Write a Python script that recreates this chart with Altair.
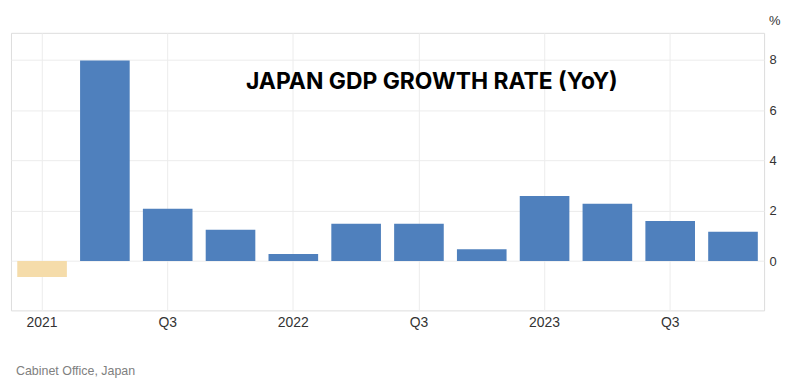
import altair as alt
import pandas as pd

quarters = ["2021 Q1", "2021 Q2", "2021 Q3", "2021 Q4",
            "2022 Q1", "2022 Q2", "2022 Q3", "2022 Q4",
            "2023 Q1", "2023 Q2", "2023 Q3", "2023 Q4"]
growth = [-0.63, 7.98, 2.08, 1.25, 0.28, 1.49, 1.49, 0.47, 2.59, 2.28, 1.6, 1.17]
x_tick_values = ["2021 Q1", "2021 Q3", "2022 Q1", "2022 Q3", "2023 Q1", "2023 Q3"]
y_tick_values = [0, 2, 4, 6, 8]
title_text = "JAPAN GDP GROWTH RATE (YoY)"
source_text = "Cabinet Office, Japan"
unit_text = "%"

df = pd.DataFrame({"q": quarters, "v": growth})

W, H = 757, 279
FONT = "Liberation Sans"

bars = alt.Chart(df).mark_bar().encode(
    x=alt.X("q:N", sort=quarters,
            scale=alt.Scale(paddingInner=0.21, paddingOuter=0.1),
            axis=alt.Axis(title=None, values=x_tick_values, bandPosition=0.5,
                          labelExpr="indexof(datum.value, 'Q1') >= 0 ? slice(datum.value, 0, 4) : 'Q3'",
                          labelAngle=0, ticks=False, domain=False, grid=True,
                          gridColor="#ececec", labelFont=FONT, labelFontSize=14,
                          labelColor="#333333", labelPadding=5)),
    y=alt.Y("v:Q", scale=alt.Scale(domain=[-1.96, 9.08], nice=False, zero=False),
            axis=alt.Axis(title=None, orient="right", values=y_tick_values,
                          ticks=False, domain=False, grid=True, gridColor="#ececec",
                          labelFont=FONT, labelFontSize=13, labelColor="#333333",
                          labelPadding=5)),
    color=alt.condition(alt.datum.v < 0, alt.value("#f5dcaa"), alt.value("#4f80bd")),
)

title = alt.Chart(pd.DataFrame({"t": [title_text]})).mark_text(
    font="Inter", fontSize=23, fontWeight="bold", color="#000000", align="center", baseline="middle"
).encode(text="t:N", x=alt.value(423), y=alt.value(49))

unit = alt.Chart(pd.DataFrame({"t": [unit_text]})).mark_text(
    font=FONT, fontSize=13, color="#333333", align="left", baseline="middle"
).encode(text="t:N", x=alt.value(W + 5), y=alt.value(-12))

source = alt.Chart(pd.DataFrame({"t": [source_text]})).mark_text(
    font=FONT, fontSize=12.5, color="#808080", align="left", baseline="middle"
).encode(text="t:N", x=alt.value(5), y=alt.value(340))

chart = alt.layer(bars, title, unit, source).properties(
    width=W, height=H,
    autosize=alt.AutoSizeParams(type="none"),
    padding={"left": 3, "top": 24, "right": 18, "bottom": 70},
).configure_view(stroke="#e3e3e3", strokeWidth=1).configure(background="white")

chart.save("out.html", embed_options={"renderer": "svg", "actions": False})
